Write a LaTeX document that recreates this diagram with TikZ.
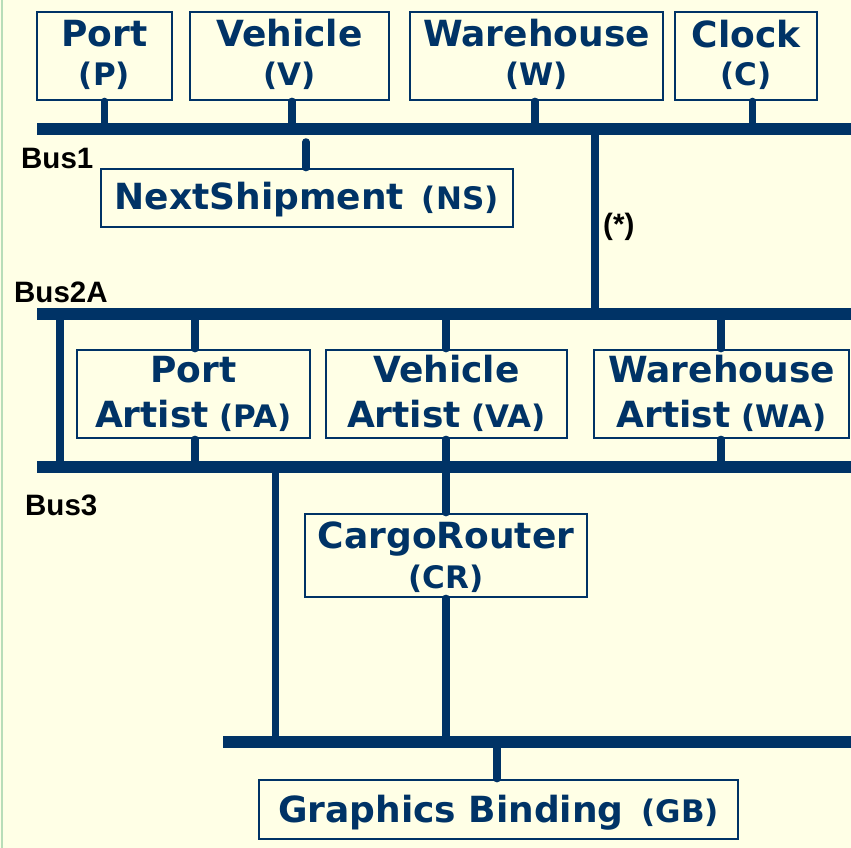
\documentclass[tikz,border=0pt]{standalone}
\usepackage{fontspec}
\setmainfont{DejaVu Sans}
\newfontfamily\lblfont{Liberation Sans}
\definecolor{navy}{HTML}{003366}
\definecolor{bgc}{HTML}{FFFFE6}
\definecolor{edgec}{HTML}{B8DDB8}
\newcommand{\bigtxt}{\fontsize{36}{40}\selectfont\bfseries}
\newcommand{\smalltxt}{\fontsize{31}{34}\selectfont\bfseries}
\begin{document}
\begin{tikzpicture}[x=1pt,y=-1pt,
  box/.style={draw=navy, line width=2.8pt, inner sep=0pt},
  bus/.style={draw=navy, line width=12pt},
  stub/.style={draw=navy, line width=7.5pt, line cap=round},
  vline/.style={draw=navy, line width=7.5pt},
  t1/.style={text=navy, font=\bigtxt, anchor=base, inner sep=0pt},
  t2/.style={text=navy, font=\smalltxt, anchor=base, inner sep=0pt},
  lbl/.style={text=black, font=\lblfont\fontsize{29.5}{32}\selectfont\bfseries, anchor=base west, inner sep=0pt}]
\fill[bgc] (0,0) rectangle (851,848);
\useasboundingbox (0,0) rectangle (851,848);
\draw[edgec, line width=2pt] (1.5,0) -- (1.5,848);

% boxes
\node[box, minimum width=135pt, minimum height=88pt] (P) at (104.5,56) {};
\node[box, minimum width=199pt, minimum height=88pt] (V) at (289.5,56) {};
\node[box, minimum width=253pt, minimum height=88pt] (W) at (536.5,56) {};
\node[box, minimum width=142pt, minimum height=88pt] (C) at (746,56) {};
\node[box, minimum width=412pt, minimum height=58pt] (NS) at (307,198) {};
\node[box, minimum width=233pt, minimum height=88pt] (PA) at (193.5,394) {};
\node[box, minimum width=241pt, minimum height=88pt] (VA) at (446.5,394) {};
\node[box, minimum width=255pt, minimum height=88pt] (WA) at (721.5,394) {};
\node[box, minimum width=282pt, minimum height=83pt] (CR) at (446,555.5) {};
\node[box, minimum width=479pt, minimum height=59pt] (GB) at (498.5,809.5) {};

% texts
\node[t1] (Pa) at (104.5,47) {Port};
\node[t2] (Pb) at (104.5,86) {(P)};
\node[t1] (Va) at (289.5,47) {Vehicle};
\node[t2] (Vb) at (289.5,86) {(V)};
\node[t1] (Wa) at (536.5,47) {Warehouse};
\node[t2] (Wb) at (536.5,86) {(W)};
\node[t1] (Ca) at (746,48) {Clock};
\node[t2] (Cb) at (746,86) {(C)};
\node[t1] (NSa) at (306.5,209) {NextShipment\hspace{0.5em}{\smalltxt(NS)}};
\node[t1] (PAa) at (193.5,382) {Port};
\node[t1] (PAb) at (193.5,427) {Artist\hspace{0.3em}{\smalltxt(PA)}};
\node[t1] (VAa) at (446.5,382) {Vehicle};
\node[t1] (VAb) at (446.5,427) {Artist\hspace{0.3em}{\smalltxt(VA)}};
\node[t1] (WAa) at (721.5,382) {Warehouse};
\node[t1] (WAb) at (721.5,427) {Artist\hspace{0.3em}{\smalltxt(WA)}};
\node[t1] (CRa) at (446,548) {CargoRouter};
\node[t2] (CRb) at (446,588) {(CR)};
\node[t1] (GBa) at (498.5,822) {Graphics Binding\hspace{0.5em}{\smalltxt(GB)}};

% bus labels
\node[lbl] (L1) at (21,168) {Bus1};
\node[lbl] (L2) at (14,302) {Bus2A};
\node[lbl] (L3) at (25,515) {Bus3};
\node[lbl] (Lstar) at (603,234) {(*)};

% bus coordinates
\coordinate (b1L) at (37,129);   \coordinate (b1R) at (851,129);
\coordinate (b2L) at (37,314);   \coordinate (b2R) at (851,314);
\coordinate (b3L) at (37,466.5); \coordinate (b3R) at (851,466.5);
\coordinate (b4L) at (223,742);  \coordinate (b4R) at (851,742);
\coordinate (nsTop) at (306,142);
\coordinate (s1) at (595,129);   \coordinate (s2) at (595,314);
\coordinate (j1) at (60,314);    \coordinate (j2) at (60,466.5);
\coordinate (k1) at (275.5,466.5); \coordinate (k2) at (275.5,742);

% buses
\draw[bus] (b1L) -- (b1R);
\draw[bus] (b2L) -- (b2R);
\draw[bus] (b3L) -- (b3R);
\draw[bus] (b4L) -- (b4R);

% vertical links
\draw[vline] (s1) -- (s2);
\draw[vline] (j1) -- (j2);
\draw[vline] (k1) -- (k2);

% stubs
\draw[stub] (P.south) -- (P.south |- b1L);
\draw[stub] ([xshift=2.5pt]V.south) -- ([xshift=2.5pt]V.south |- b1L);
\draw[stub] ([xshift=-1.5pt]W.south) -- ([xshift=-1.5pt]W.south |- b1L);
\draw[stub] ([xshift=6.5pt]C.south) -- ([xshift=6.5pt]C.south |- b1L);
\draw[stub] ([xshift=-1pt]NS.north) -- (nsTop);
\draw[stub] ([xshift=1.5pt]PA.north) -- ([xshift=1.5pt]PA.north |- b2L);
\draw[stub] ([xshift=1.5pt]PA.south) -- ([xshift=1.5pt]PA.south |- b3L);
\draw[stub] ([xshift=-0.5pt]VA.north) -- ([xshift=-0.5pt]VA.north |- b2L);
\draw[stub] ([xshift=-0.5pt]VA.south) -- ([xshift=-0.5pt]VA.south |- b3L);
\draw[stub] ([xshift=-0.5pt]WA.north) -- ([xshift=-0.5pt]WA.north |- b2L);
\draw[stub] ([xshift=-0.5pt]WA.south) -- ([xshift=-0.5pt]WA.south |- b3L);
\draw[stub] (CR.north) -- (CR.north |- b3L);
\draw[stub] (CR.south) -- (CR.south |- b4L);
\draw[stub] ([xshift=-1.5pt]GB.north) -- ([xshift=-1.5pt]GB.north |- b4L);
\end{tikzpicture}
\end{document}
